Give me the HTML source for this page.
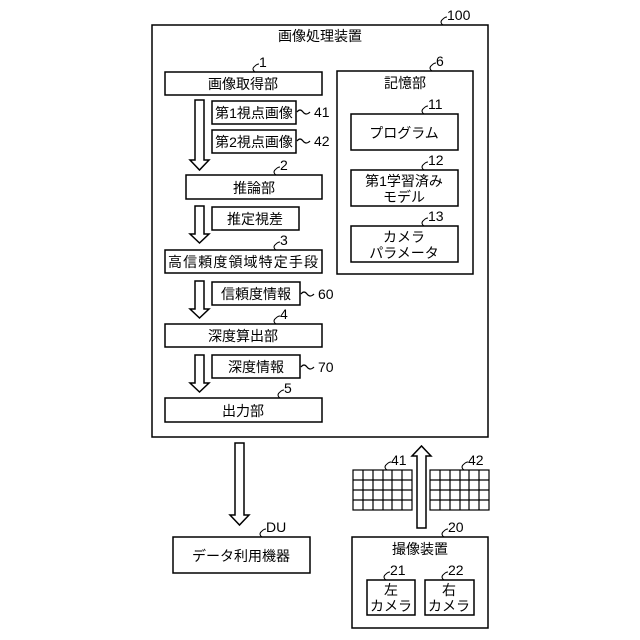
<!DOCTYPE html>
<html><head><meta charset="utf-8"><style>
html,body{margin:0;padding:0;background:#fff}
svg{display:block}
text{font-family:"Liberation Sans","Noto Sans CJK JP",sans-serif;font-size:14px;fill:#000}
.s{font-size:12px}
</style></head><body>
<svg width="640" height="640" viewBox="0 0 640 640" xmlns="http://www.w3.org/2000/svg">
<g fill="#fff" stroke="#000" stroke-width="1.5">
<rect x="152" y="25" width="336" height="412"/>
<rect x="165" y="72" width="157" height="23"/>
<rect x="212" y="101" width="84" height="23"/>
<rect x="212" y="130" width="84" height="23"/>
<rect x="186" y="175" width="136" height="24"/>
<rect x="212" y="207" width="87" height="23"/>
<rect x="165" y="250" width="157" height="23"/>
<rect x="212" y="282" width="88" height="23"/>
<rect x="165" y="324" width="157" height="23"/>
<rect x="212" y="355" width="88" height="23"/>
<rect x="165" y="398" width="157" height="24"/>
<rect x="337" y="71" width="136" height="203"/>
<rect x="351" y="114" width="107" height="36"/>
<rect x="351" y="170" width="107" height="36"/>
<rect x="351" y="226" width="107" height="36"/>
<rect x="173" y="537" width="137" height="36"/>
<rect x="352" y="537" width="136" height="91"/>
<rect x="367" y="580" width="48" height="35"/>
<rect x="425" y="580" width="49" height="35"/>
<polygon points="195,100 204,100 204,160 209,160 199.5,170 190,160 195,160"/>
<polygon points="195,206 204,206 204,234 209,234 199.5,243 190,234 195,234"/>
<polygon points="195,281 204,281 204,309 209,309 199.5,318 190,309 195,309"/>
<polygon points="195,355 204,355 204,383 209,383 199.5,392 190,383 195,383"/>
<polygon points="235,443 244,443 244,515 249,515 239.5,525 230,515 235,515"/>
<polygon points="417,528 426,528 426,456 431,456 421.5,446 412,456 417,456"/>
</g>
<g fill="none" stroke="#000" stroke-width="1.2">
<rect x="353" y="470" width="59" height="40"/>
<path d="M363,470v40M373,470v40M383,470v40M392,470v40M402,470v40M353,480h59M353,490h59M353,500h59"/>
<rect x="430" y="470" width="59" height="40"/>
<path d="M440,470v40M450,470v40M460,470v40M469,470v40M479,470v40M430,480h59M430,490h59M430,500h59"/>
<path d="M297,112 q3,-4 6,0 q3,4 7,0"/>
<path d="M297,141 q3,-4 6,0 q3,4 7,0"/>
<path d="M301,294 q3,-4 6,0 q3,4 7,0"/>
<path d="M301,367 q3,-4 6,0 q3,4 7,0"/>
</g>
<g fill="none" stroke="#000" stroke-width="1">
<path d="M255,72 q-4,-3 0,-6 q2,-2 4,-2"/>
<path d="M276,175 q-4,-3 0,-6 q2,-2 4,-2"/>
<path d="M276,250 q-4,-3 0,-6 q2,-2 4,-2"/>
<path d="M276,324 q-4,-3 0,-6 q2,-2 4,-2"/>
<path d="M280,398 q-4,-3 0,-6 q2,-2 4,-2"/>
<path d="M432,71 q-4,-3 0,-6 q2,-2 4,-2"/>
<path d="M424,114 q-4,-3 0,-6 q2,-2 4,-2"/>
<path d="M424,170 q-4,-3 0,-6 q2,-2 4,-2"/>
<path d="M424,226 q-4,-3 0,-6 q2,-2 4,-2"/>
<path d="M443,25 q-4,-3 0,-6 q2,-2 4,-2"/>
<path d="M262,537 q-4,-3 0,-6 q2,-2 4,-2"/>
<path d="M444,537 q-4,-3 0,-6 q2,-2 4,-2"/>
<path d="M386,580 q-4,-3 0,-6 q2,-2 4,-2"/>
<path d="M444,580 q-4,-3 0,-6 q2,-2 4,-2"/>
<path d="M387,470 q-4,-3 0,-6 q2,-2 4,-2"/>
<path d="M464,470 q-4,-3 0,-6 q2,-2 4,-2"/>
</g>
<g text-anchor="middle">
<text x="320" y="41">画像処理装置</text>
<text x="243" y="89">画像取得部</text>
<text x="254" y="118">第1視点画像</text>
<text x="254" y="147">第2視点画像</text>
<text x="254" y="193">推論部</text>
<text x="255" y="224">推定視差</text>
<text x="243" y="267" textLength="150" lengthAdjust="spacing">高信頼度領域特定手段</text>
<text x="256" y="299">信頼度情報</text>
<text x="243" y="341">深度算出部</text>
<text x="256" y="372">深度情報</text>
<text x="243" y="416">出力部</text>
<text x="405" y="88">記憶部</text>
<text x="404" y="138">プログラム</text>
<text x="404" y="186">第1学習済み</text>
<text x="404" y="202">モデル</text>
<text x="404" y="242">カメラ</text>
<text x="404" y="258">パラメータ</text>
<text x="241" y="561">データ利用機器</text>
<text x="420" y="554">撮像装置</text>
<text x="391" y="595">左</text>
<text x="391" y="611">カメラ</text>
<text x="449" y="595">右</text>
<text x="449" y="611">カメラ</text>
</g>
<g class="s">
<text x="447" y="20">100</text>
<text x="259" y="67">1</text>
<text x="280" y="170">2</text>
<text x="280" y="245">3</text>
<text x="280" y="319">4</text>
<text x="284" y="393">5</text>
<text x="436" y="66">6</text>
<text x="428" y="109">11</text>
<text x="428" y="165">12</text>
<text x="428" y="221">13</text>
<text x="314" y="117">41</text>
<text x="314" y="146">42</text>
<text x="318" y="299">60</text>
<text x="318" y="372">70</text>
<text x="266" y="532">DU</text>
<text x="448" y="532">20</text>
<text x="390" y="575">21</text>
<text x="448" y="575">22</text>
<text x="391" y="465">41</text>
<text x="468" y="465">42</text>
</g>
</svg>
</body></html>
